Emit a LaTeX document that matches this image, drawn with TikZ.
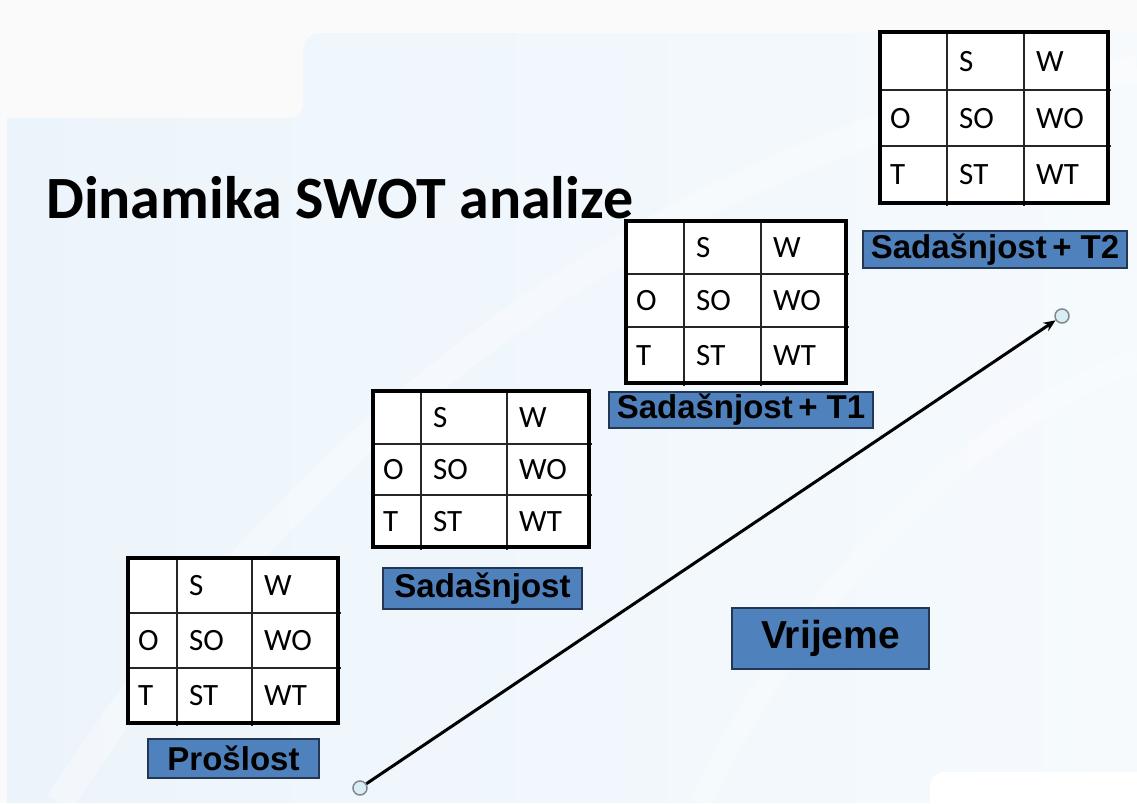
\documentclass[tikz,border=0pt]{standalone}
\usepackage{fontspec}
\setmainfont{Carlito}
\newfontfamily\labelfont{Liberation Sans}[BoldFont={Liberation Sans Bold}]
\usetikzlibrary{arrows.meta}
\definecolor{pagebg}{RGB}{250,250,250}
\definecolor{panelA}{RGB}{236,244,251}
\definecolor{panelB}{RGB}{246,250,253}
\definecolor{labelblue}{RGB}{79,129,189}
\definecolor{labeledge}{RGB}{35,55,85}
\definecolor{dotfill}{RGB}{214,238,244}
\definecolor{dotedge}{RGB}{130,135,140}
\tikzset{
  outerline/.style={line width=3.6pt, black},
  innerline/.style={line width=1.8pt, black!85},
  cell/.style={anchor=base west, inner sep=0pt, font=\fontsize{31}{34}\selectfont},
  tag/.style={draw=labeledge, line width=1.2pt, fill=labelblue, inner sep=0pt,
    font=\labelfont\bfseries\fontsize{33}{36}\selectfont, text=black},
  dot/.style={circle, draw=dotedge, fill=dotfill, line width=1.5pt, minimum size=14pt, inner sep=0pt},
}
% #1 name, #2 x0, #3 x1, #4 x2, #5 x3, #6 y0, #7 y1, #8 y2, #9 y3
\newcommand\swotgrid[9]{%
  \fill[white] (#2,#6) rectangle (#5,#9);
  \draw[innerline] (#3,#6) -- (#3,{#9+3});
  \draw[innerline] (#4,#6) -- (#4,{#9+3});
  \draw[innerline] (#2,#7) -- ({#5+3},#7);
  \draw[innerline] (#2,#8) -- ({#5+3},#8);
  \draw[outerline] (#2,#6) rectangle (#5,#9);
  \node[cell] (#1-s)  at ({#3+12},{(#6+#7)/2+10}) {S};
  \node[cell] (#1-w)  at ({#4+12},{(#6+#7)/2+10}) {W};
  \node[cell] (#1-o)  at ({#2+10},{(#7+#8)/2+10}) {O};
  \node[cell] (#1-so) at ({#3+12},{(#7+#8)/2+10}) {SO};
  \node[cell] (#1-wo) at ({#4+12},{(#7+#8)/2+10}) {WO};
  \node[cell] (#1-t)  at ({#2+10},{(#8+#9)/2+10}) {T};
  \node[cell] (#1-st) at ({#3+12},{(#8+#9)/2+10}) {ST};
  \node[cell] (#1-wt) at ({#4+12},{(#8+#9)/2+10}) {WT};
}
\begin{document}
\begin{tikzpicture}[x=1pt, y=-1pt]
\useasboundingbox (0,0) rectangle (1137,803);
% background
\fill[pagebg] (0,0) rectangle (1137,803);
\shade[left color=panelA, right color=panelB]
  (7,803) -- (7,118) -- (288,118) .. controls (299,118) and (303,112) .. (303,100)
  -- (303,52) .. controls (303,39) and (310,33) .. (324,33) -- (1137,33) -- (1137,803) -- cycle;
\draw[white, line width=28pt, opacity=0.35] (60,803) .. controls (300,420) and (700,120) .. (1137,70);
\draw[white, line width=22pt, opacity=0.3] (700,803) .. controls (820,560) and (980,420) .. (1137,360);
\fill[white, rounded corners=14pt] (930,772) rectangle (1160,830);
% title
\node[anchor=base west, inner sep=0pt, font=\bfseries\fontsize{60}{66}\selectfont] (title) at (46,218) {Dinamika SWOT analize};
% tables
\swotgrid{p}{128}{177}{252}{338}{558}{613}{668}{723}
\swotgrid{s}{373}{421}{507}{589}{391}{444}{495}{547}
\swotgrid{a}{626}{684}{761}{846}{221}{274}{327}{383}
\swotgrid{b}{880}{947}{1024}{1108}{32}{90}{146}{203}
% labels
\node[tag, minimum width=171pt, minimum height=39pt] (lp) at (233.5,758.5) {Prošlost};
\node[tag, minimum width=199pt, minimum height=41pt] (ls) at (482.5,588.5) {Sadašnjost};
\node[tag, minimum width=264pt, minimum height=36pt] (la) at (741,410) {Sadašnjost\,+ T1};
\node[tag, minimum width=264pt, minimum height=37pt] (lb) at (995,249.5) {Sadašnjost\,+ T2};
\node[tag, minimum width=197pt, minimum height=61pt, font=\labelfont\bfseries\fontsize{39}{42}\selectfont] (lv) at (830.5,638.5) {Vrijeme};
% time arrow
\node[dot] (start) at (360,788) {};
\node[dot] (end) at (1062,316) {};
\draw[line width=3pt, -{Stealth[length=12pt, width=10pt]}] (start) -- (end);
\end{tikzpicture}
\end{document}
